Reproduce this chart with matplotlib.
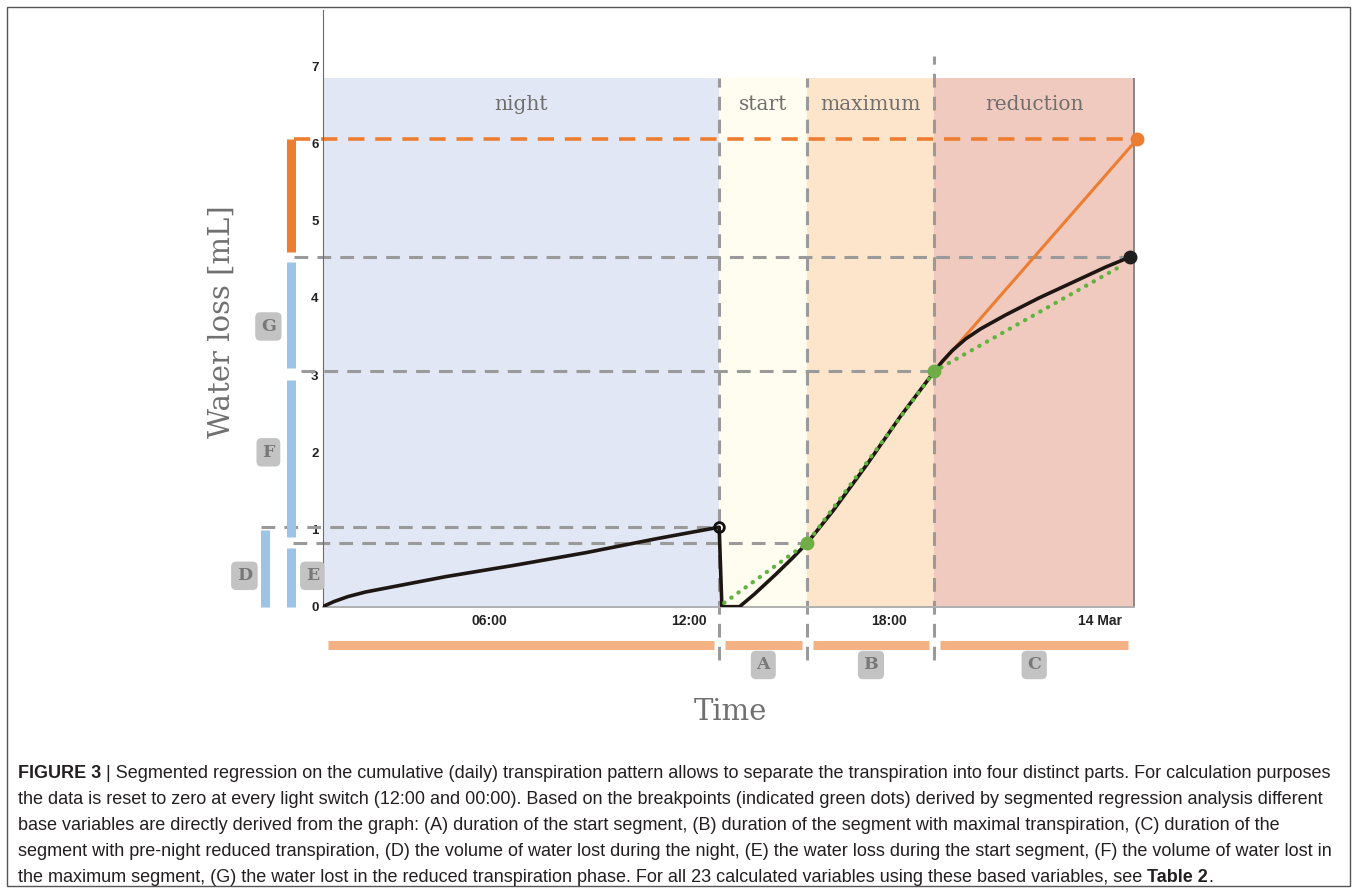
import matplotlib
matplotlib.use("Agg")
import matplotlib.pyplot as plt
import matplotlib.transforms as mtransforms
from matplotlib import font_manager
from matplotlib.patches import Rectangle

W, H = 1357, 893

# time axis in hours, segment borders
seg_names = ["night", "start", "maximum", "reduction"]
seg_edges = [1.0, 12.9, 15.55, 19.36, 25.35]
seg_colors = ["#e1e7f4", "#fffcf0", "#fde5cc", "#f0cabe"]
shade_top = 6.85

# cumulative water loss [mL], reset at the light switch
loss_t = [1.0, 1.33, 1.75, 2.28, 4.70, 6.80, 8.90, 11.01, 12.9,
          12.98, 13.51, 13.95, 14.6, 15.1, 15.55, 16.33, 17.33, 18.33, 19.36,
          19.6, 19.9, 20.3, 20.75, 21.5, 22.5, 23.5, 24.5, 25.23]
loss_y = [0.0, 0.065, 0.13, 0.19, 0.39, 0.54, 0.70, 0.88, 1.03,
          0.0, 0.0, 0.16, 0.42, 0.63, 0.83, 1.25, 1.84, 2.46, 3.05,
          3.18, 3.32, 3.47, 3.60, 3.78, 4.0, 4.2, 4.4, 4.53]

# segmented regression fit and breakpoints
fit_t = [13.05, 15.55, 19.36, 25.03]
fit_y = [0.05, 0.83, 3.05, 4.43]
bp_t = [15.55, 19.36]
bp_y = [0.83, 3.05]

# projection of the maximum segment to the end of the day
proj_t = [19.36, 25.45]
proj_y = [3.05, 6.06]
peak_t, peak_y = 12.9, 1.03
end_t, end_y = 25.23, 4.53

# horizontal guide levels and where they start on the left
guide_y = [1.03, 0.83, 3.05, 4.53]
guide_x0 = [-0.85, 0.11, 0.36, 0.15]
guide_x1 = [12.9, 15.55, 19.36, 25.23]

# volume bars on the left (D, E, F, G, projected)
vbar_names = ["D", "E", "F", "G"]
vbar_lo = [0.0, 0.0, 0.90, 3.09]
vbar_hi = [0.99, 0.76, 2.94, 4.46]
proj_lo, proj_hi = 4.59, 6.06

xtick_pos = [6, 12, 18, 24]
xtick_lab = ["06:00", "12:00", "18:00", "14 Mar"]

names = {f.name for f in font_manager.fontManager.ttflist}
cap_font = "Liberation Sans Narrow" if "Liberation Sans Narrow" in names else "Liberation Sans"
serif = "DejaVu Serif"
grey_dash = "#9a9a9a"
orange = "#ed7d31"
green = "#70ad47"
blue = "#9dc3e6"

fig = plt.figure(figsize=(W / 100, H / 100), dpi=100)
fig.patch.set_facecolor("white")
ax = fig.add_axes([322.7 / W, (H - 606.7) / H, (1134 - 322.7) / W, 596.7 / H])
ax.set_xlim(seg_edges[0], seg_edges[-1])
ax.set_ylim(0, 7.73)
ax.set_facecolor("none")

for sp in ["top", "right"]:
    ax.spines[sp].set_visible(False)
ax.spines["left"].set_color("#6b6b6b")
ax.spines["bottom"].set_color("#b0b0b0")
ax.spines["bottom"].set_linewidth(1.4)

# segment shading and names
for i, name in enumerate(seg_names):
    a, b = seg_edges[i], seg_edges[i + 1]
    ax.fill_between([a, b], 0, shade_top, color=seg_colors[i], lw=0, zorder=0)
    ax.text((a + b) / 2, 6.51, name, ha="center", va="center", fontsize=14.5,
            family=serif, color="#6f6f6f")
ax.vlines(seg_edges[-1], 0, shade_top, color="#777777", lw=1.2, clip_on=False, zorder=1)

# dashed guides
for k, xb in enumerate(seg_edges[1:4]):
    top = 7.14 if k == 2 else shade_top
    ax.vlines(xb, -0.69, top, color=grey_dash, lw=2.2, linestyles=(0, (4.5, 3)),
              clip_on=False, zorder=2)
for y, a, b in zip(guide_y, guide_x0, guide_x1):
    ax.hlines(y, a, b, color=grey_dash, lw=2.2, linestyles=(0, (4.5, 3)),
              clip_on=False, zorder=2)
ax.hlines(proj_y[-1], 0.15, proj_t[-1], color=orange, lw=2.6, linestyles=(0, (4.5, 3)),
          clip_on=False, zorder=2)

# data and fits
ax.plot(proj_t, proj_y, color=orange, lw=2.2, zorder=3)
ax.plot(loss_t, loss_y, color="#1e1612", lw=2.6, zorder=4, solid_joinstyle="round")
ax.plot(fit_t, fit_y, color="#5fb33f", lw=3, linestyle=(0, (0.1, 2)),
        dash_capstyle="round", zorder=5)
ax.plot(bp_t, bp_y, "o", color=green, ms=9, zorder=6)
ax.plot([proj_t[-1]], [proj_y[-1]], "o", color=orange, ms=9, zorder=6, clip_on=False)
ax.plot([end_t], [end_y], "o", color="#1e1e1e", ms=9, zorder=6, clip_on=False)
ax.plot([peak_t], [peak_y], "o", mfc="none", mec="#111111", mew=2, ms=7, zorder=6)

# volume bars at the left
bar_x = [-0.72, 0.06, 0.06, 0.06]
for x, lo, hi in zip(bar_x, vbar_lo, vbar_hi):
    ax.vlines(x, lo, hi, color=blue, lw=6.5, clip_on=False, zorder=2)
ax.vlines(0.06, proj_lo, proj_hi, color=orange, lw=6.5, clip_on=False, zorder=2)

# duration bars under the axis
gap = 0.17
for i in range(4):
    a, b = seg_edges[i] + gap, seg_edges[i + 1] - gap
    ax.hlines(-0.49, a, b, color="#f4b183", lw=6.5, clip_on=False, zorder=2)


def tag(x, y, s):
    ax.text(x, y, s, ha="center", va="center", fontsize=12.5, fontweight="bold",
            family=serif, color="#787878", clip_on=False, zorder=8,
            bbox=dict(boxstyle="round,pad=0.33,rounding_size=0.3", fc="#c3c3c3", ec="none"))


for i, s in enumerate(["A", "B", "C"]):
    tag((seg_edges[i + 1] + seg_edges[i + 2]) / 2, -0.755, s)
tag(-1.35, 0.40, "D")
tag(0.69, 0.40, "E")
tag(-0.63, 2.0, "F")
tag(-0.63, 3.63, "G")

ax.set_yticks(range(8))
ax.set_yticklabels([str(v) for v in range(8)], fontsize=9.5, fontweight="bold",
                   family="Liberation Sans", color="#222222")
ax.set_xticks(xtick_pos)
ax.set_xticklabels(xtick_lab, fontsize=10, fontweight="bold",
                   family="Liberation Sans", color="#222222")
ax.tick_params(axis="both", length=0)
ax.tick_params(axis="y", pad=3)
ax.tick_params(axis="x", pad=5)
last = ax.get_xticklabels()[-1]
last.set_transform(last.get_transform() + mtransforms.ScaledTranslation(0.11, 0, fig.dpi_scale_trans))

fig.text(222 / W, 1 - 322 / H, "Water loss [mL]", rotation=90, ha="center", va="center",
         fontsize=21, family=serif, color="#707070")
fig.text(730 / W, 1 - 712 / H, "Time", ha="center", va="center",
         fontsize=21, family=serif, color="#707070")

# outer frame
fig.patches.append(Rectangle((7 / W, 7 / H), (1350 - 7) / W, (886 - 7) / H,
                             transform=fig.transFigure, fill=False, ec="#555555", lw=1))

# caption
caption = [
    [("FIGURE 3", "bold"), (" | Segmented regression on the cumulative (daily) transpiration pattern allows to separate the transpiration into four distinct parts. For calculation purposes", "normal")],
    [("the data is reset to zero at every light switch (12:00 and 00:00). Based on the breakpoints (indicated green dots) derived by segmented regression analysis different", "normal")],
    [("base variables are directly derived from the graph: (A) duration of the start segment, (B) duration of the segment with maximal transpiration, (C) duration of the", "normal")],
    [("segment with pre-night reduced transpiration, (D) the volume of water lost during the night, (E) the water loss during the start segment, (F) the volume of water lost in", "normal")],
    [("the maximum segment, (G) the water lost in the reduced transpiration phase. For all 23 calculated variables using these based variables, see ", "normal"), ("Table 2", "bold"), (".", "normal")],
]
cap_y = [773, 800, 826, 852, 878]

r = fig.canvas.get_renderer()


def draw_caption(size):
    objs, right = [], 0
    for runs, yp in zip(caption, cap_y):
        x = 18
        for s, w in runs:
            t = fig.text(x / W, 1 - yp / H, s, fontsize=size, fontweight=w, family=cap_font,
                         ha="left", va="center", color="#231f20")
            x = t.get_window_extent(r).x1
            objs.append(t)
        right = max(right, x)
    return objs, right


objs, right = draw_caption(12)
for t in objs:
    t.remove()
draw_caption(12 * (1336 - 18) / (right - 18))

fig.savefig("out.png", dpi=100)
